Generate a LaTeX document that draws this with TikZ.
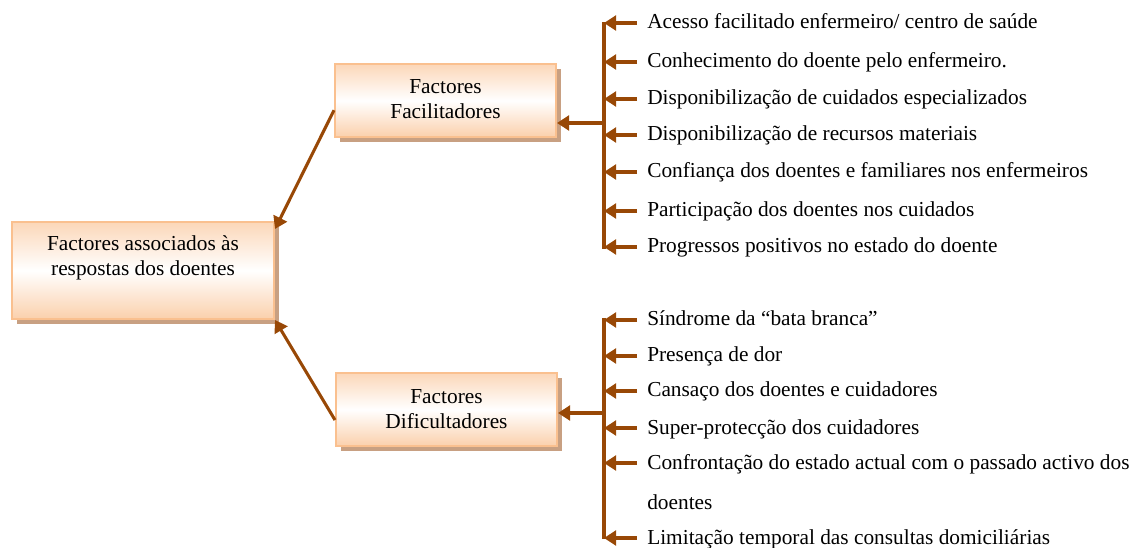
\documentclass[tikz,border=0pt]{standalone}
\usepackage{fontspec}
\setmainfont{Liberation Serif}
\usepackage{tikz}
\usetikzlibrary{calc}
\usetikzlibrary{arrows.meta}
\usetikzlibrary{shadows}
\usetikzlibrary{positioning}
\definecolor{barbrown}{RGB}{152,72,6}
\definecolor{boxline}{RGB}{250,192,143}
\definecolor{peach}{RGB}{251,208,172}
\definecolor{shadowtan}{RGB}{200,160,130}
\tikzset{
    factorbox/.style={
           rectangle,
           draw=boxline, line width=1.5pt,
           top color=peach!85, bottom color=peach, middle color=white,
           inner ysep=0pt,
           align=center,
           font=\fontsize{16}{18.75}\selectfont,
           general shadow={fill=shadowtan, shadow xshift=3.5pt, shadow yshift=-3.5pt},
           },
    item/.style={
           anchor=west,
           inner sep=0pt,
           text height=9pt, text depth=0pt,
           align=left,
           font=\fontsize{16}{30}\selectfont,
           },
    link/.style={draw=barbrown, line width=2.3pt, -{Triangle[length=9pt,width=11pt]}},
    bar/.style={draw=barbrown, line width=2.3pt},
}
\begin{document}
\begin{tikzpicture}[x=0.75pt,y=-0.75pt]
      \useasboundingbox (0,0) rectangle (1130,548);
      % boxes
      \node[factorbox, minimum width=196.5pt, text height=40.5pt, text depth=32.25pt] (assoc) at (143,270.5) {Factores associados às\\respostas dos doentes};
      \node[factorbox, minimum width=165.75pt, text height=41.25pt, text depth=13.5pt] (facil) at (445.5,100.5) {Factores\\Facilitadores};
      \node[factorbox, minimum width=165.75pt, text height=41.25pt, text depth=13.5pt] (dific) at (446.5,409.5) {Factores\\Dificultadores};
      % facilitadores
      \coordinate (ftop) at (604,22);
      \coordinate (fbot) at (604,249);
      \coordinate (fjoin) at (604,123);
      \node[item] (f1) at (647,23)  {Acesso facilitado enfermeiro/ centro de saúde};
      \node[item] (f2) at (647,62)  {Conhecimento do doente pelo enfermeiro.};
      \node[item] (f3) at (647,99)  {Disponibilização de cuidados especializados};
      \node[item] (f4) at (647,135) {Disponibilização de recursos materiais};
      \node[item] (f5) at (647,172) {Confiança dos doentes e familiares nos enfermeiros};
      \node[item] (f6) at (647,211) {Participação dos doentes nos cuidados};
      \node[item] (f7) at (647,247) {Progressos positivos no estado do doente};
      % dificultadores
      \coordinate (dtop) at (604,318);
      \coordinate (dbot) at (604,539);
      \coordinate (djoin) at (604,413);
      \node[item] (d1) at (647,320) {Síndrome da “bata branca”};
      \node[item] (d2) at (647,356) {Presença de dor};
      \node[item] (d3) at (647,391) {Cansaço dos doentes e cuidadores};
      \node[item] (d4) at (647,428) {Super-protecção dos cuidadores};
      \node[item, anchor=base west, text height=, text depth=] (d5) at (647,509) {Confrontação do estado actual com o passado activo dos\\doentes};
      \node[item] (d6) at (647,538) {Limitação temporal das consultas domiciliárias};
      % bars
      \draw[bar] (ftop) -- (fbot);
      \draw[bar] (dtop) -- (dbot);
      % arrows
      \draw[link] ($(f1.west)+(-10,0)$) -- (f1.west -| ftop);
      \draw[link] ($(f2.west)+(-10,0)$) -- (f2.west -| ftop);
      \draw[link] ($(f3.west)+(-10,0)$) -- (f3.west -| ftop);
      \draw[link] ($(f4.west)+(-10,0)$) -- (f4.west -| ftop);
      \draw[link] ($(f5.west)+(-10,0)$) -- (f5.west -| ftop);
      \draw[link] ($(f6.west)+(-10,0)$) -- (f6.west -| ftop);
      \draw[link] ($(f7.west)+(-10,0)$) -- (f7.west -| ftop);
      \draw[link] ($(d1.west)+(-10,0)$) -- (d1.west -| dtop);
      \draw[link] ($(d2.west)+(-10,0)$) -- (d2.west -| dtop);
      \draw[link] ($(d3.west)+(-10,0)$) -- (d3.west -| dtop);
      \draw[link] ($(d4.west)+(-10,0)$) -- (d4.west -| dtop);
      \coordinate (d5first) at ($(d5.base west)+(-10,-46)$);
      \draw[link] (d5first) -- (d5first -| dtop);
      \draw[link] ($(d6.west)+(-10,0)$) -- (d6.west -| dtop);
      \draw[link] (fjoin) -- (fjoin -| facil.east);
      \draw[link] (djoin) -- (djoin -| dific.east);
      \draw[link] ($(facil.south west)!0.37!(facil.north west)$) -- ($(assoc.north east)+(0,8)$);
      \draw[link] ($(dific.south west)!0.36!(dific.north west)$) -- (assoc.south east);
\end{tikzpicture}
\end{document}
